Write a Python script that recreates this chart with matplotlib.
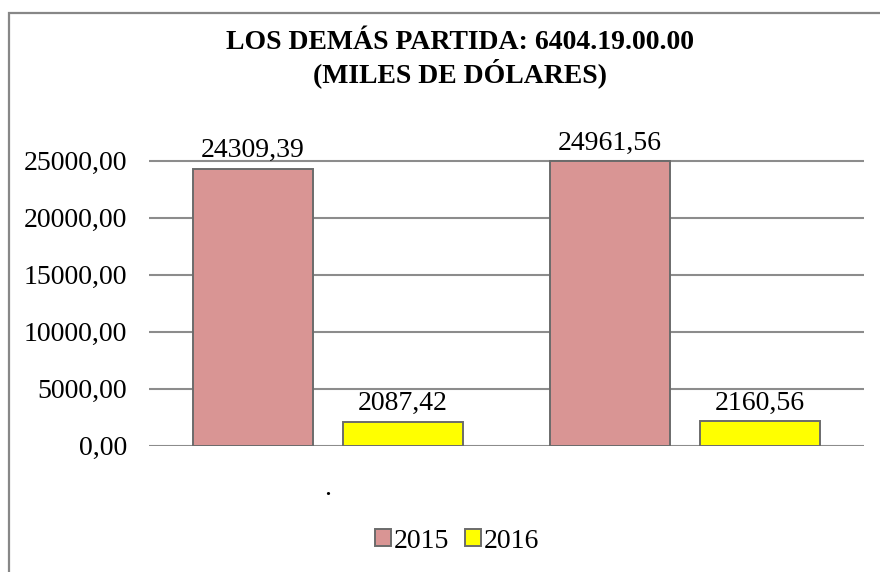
import matplotlib
matplotlib.use("Agg")
import matplotlib.pyplot as plt
import numpy as np
from matplotlib.patches import Rectangle

categories = [".", ""]
series_names = ["2015", "2016"]
values_2015 = [24309.39, 24961.56]
values_2016 = [2087.42, 2160.56]
yticks = [0, 5000, 10000, 15000, 20000, 25000]
title = "LOS DEMÁS PARTIDA: 6404.19.00.00\n(MILES DE DÓLARES)"

plt.rcParams['font.family'] = ['Liberation Serif', 'DejaVu Serif']
FS = 20

W, H = 880, 572
fig = plt.figure(figsize=(W / 100, H / 100), dpi=100)

# chart border
fig.patches.append(Rectangle((9 / W, -0.05), 1.1, 1 - 13 / H + 0.05, transform=fig.transFigure,
                             fill=False, edgecolor='#878787', linewidth=1.6, clip_on=False))

ax = fig.add_axes([149 / W, 1 - 445.7 / H, (864 - 149) / W, (445.7 - 103.7) / H])
x = np.arange(len(categories))
bw = 0.3357
off = 0.2098
fmt = lambda v: f"{v:.2f}".replace('.', ',')

b1 = ax.bar(x - off, values_2015, bw, color='#D99594', edgecolor='#6b6b6b', linewidth=1.4,
            label=series_names[0], zorder=3)
b2 = ax.bar(x + off, values_2016, bw, color='#FFFF00', edgecolor='#6b6b6b', linewidth=1.4,
            label=series_names[1], zorder=3)
for bars, vals in ((b1, values_2015), (b2, values_2016)):
    for r, v in zip(bars, vals):
        ax.annotate(fmt(v), (r.get_x() + r.get_width() / 2, v), xytext=(0, 4),
                    textcoords='offset points', ha='center', va='bottom', fontsize=FS)

ax.set_xlim(-0.5, 1.5)
ax.set_ylim(0, 30000)
ax.set_yticks(yticks)
ax.set_yticklabels([fmt(v) for v in yticks], fontsize=FS)
ax.set_xticks(x)
ax.set_xticklabels(categories, fontsize=FS)
ax.tick_params(axis='both', length=0)
ax.tick_params(axis='y', pad=16)
ax.tick_params(axis='x', pad=22)
for s in ax.spines.values():
    s.set_visible(False)
ax.yaxis.grid(True, color='#8c8c8c', linewidth=1.5, zorder=0)
ax.set_axisbelow(True)

fig.text(460 / W, 1 - 59 / H, title, ha='center', va='center', fontsize=FS, fontweight='bold',
         linespacing=1.1)

leg = fig.legend(handles=[b1, b2], labels=series_names, loc='center',
                 bbox_to_anchor=(457 / W, 1 - 541 / H), ncol=2, frameon=False, fontsize=FS,
                 handlelength=0.55, handleheight=0.55, handletextpad=0.1, columnspacing=0.6)

fig.savefig('out.png', dpi=100)
